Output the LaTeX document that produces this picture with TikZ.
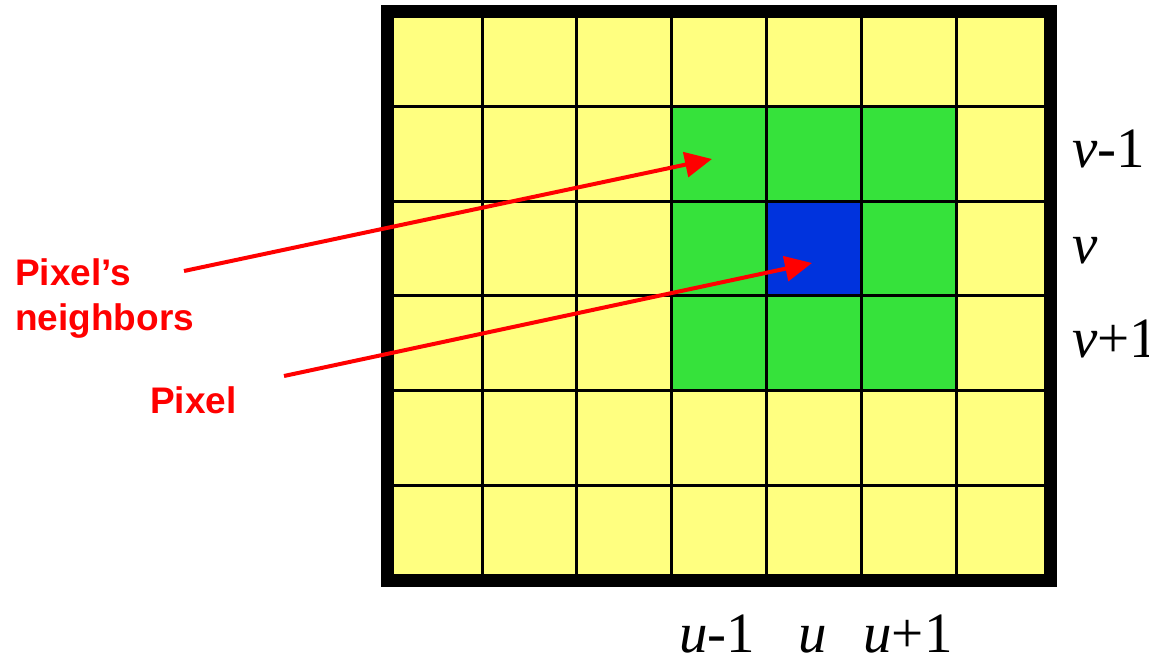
\documentclass[tikz,border=0pt]{standalone}
\usepackage{fontspec}
\setmainfont{Liberation Serif}
\newfontfamily\lblfont{Liberation Sans}
\usetikzlibrary{arrows.meta}
\definecolor{cellyellow}{RGB}{255,255,128}
\definecolor{cellgreen}{RGB}{54,226,59}
\definecolor{cellblue}{RGB}{0,51,221}
\definecolor{lblred}{RGB}{255,0,0}
\tikzset{
  gridline/.style={line width=3pt,black},
  borderline/.style={line width=13pt,black},
  axislbl/.style={font=\fontsize{57}{60}\selectfont,inner sep=0pt,anchor=base},
  vlbl/.style={font=\fontsize{57}{60}\selectfont,inner sep=0pt,anchor=base west},
  redlbl/.style={font=\lblfont\bfseries\fontsize{37}{45}\selectfont,text=lblred,inner sep=0pt},
  redarrow/.style={draw=lblred,line width=4pt,-{Triangle[length=27pt,width=25pt]}}
}
\begin{document}
\begin{tikzpicture}[x=1pt,y=-1pt]
\useasboundingbox (0,0) rectangle (1149,656);
\def\cs{94.8}
\def\gx{387.3}
\def\gy{11.5}
% cells
\fill[cellyellow] (\gx,\gy) rectangle ++(7*\cs,6*\cs);
\fill[cellgreen] (\gx+3*\cs,\gy+1*\cs) rectangle ++(3*\cs,3*\cs);
\fill[cellblue] (\gx+4*\cs,\gy+2*\cs) rectangle ++(\cs,\cs);
% grid lines
\foreach \i in {1,...,6} {
  \draw[gridline] (\gx+\i*\cs,\gy) -- (\gx+\i*\cs,\gy+6*\cs);
}
\foreach \j in {1,...,5} {
  \draw[gridline] (\gx,\gy+\j*\cs) -- (\gx+7*\cs,\gy+\j*\cs);
}
% border
\draw[borderline] (\gx,\gy) rectangle ++(7*\cs,6*\cs);
% axis labels
\node[axislbl] (um) at (717,652) {\textit{u}-1};
\node[axislbl] (u0) at (813,652) {\textit{u}};
\node[axislbl] (up) at (908,652) {\textit{u}+1};
\node[vlbl] (vm) at (1072,167) {\textit{v}-1};
\node[vlbl] (v0) at (1072,263) {\textit{v}};
\node[vlbl] (vp) at (1072,357) {\textit{v}+1};
% red labels
\node[redlbl,anchor=north west,align=left] (nbr) at (15,258) {Pixel’s\\neighbors};
\node[redlbl,anchor=base west] (pix) at (150,413) {Pixel};
% arrows
\coordinate (nbrstart) at (184,271);
\coordinate (nbrtip) at (712,159);
\coordinate (pixstart) at (284,376);
\coordinate (pixtip) at (812,263);
\draw[redarrow] (nbrstart) -- (nbrtip);
\draw[redarrow] (pixstart) -- (pixtip);
\end{tikzpicture}
\end{document}
